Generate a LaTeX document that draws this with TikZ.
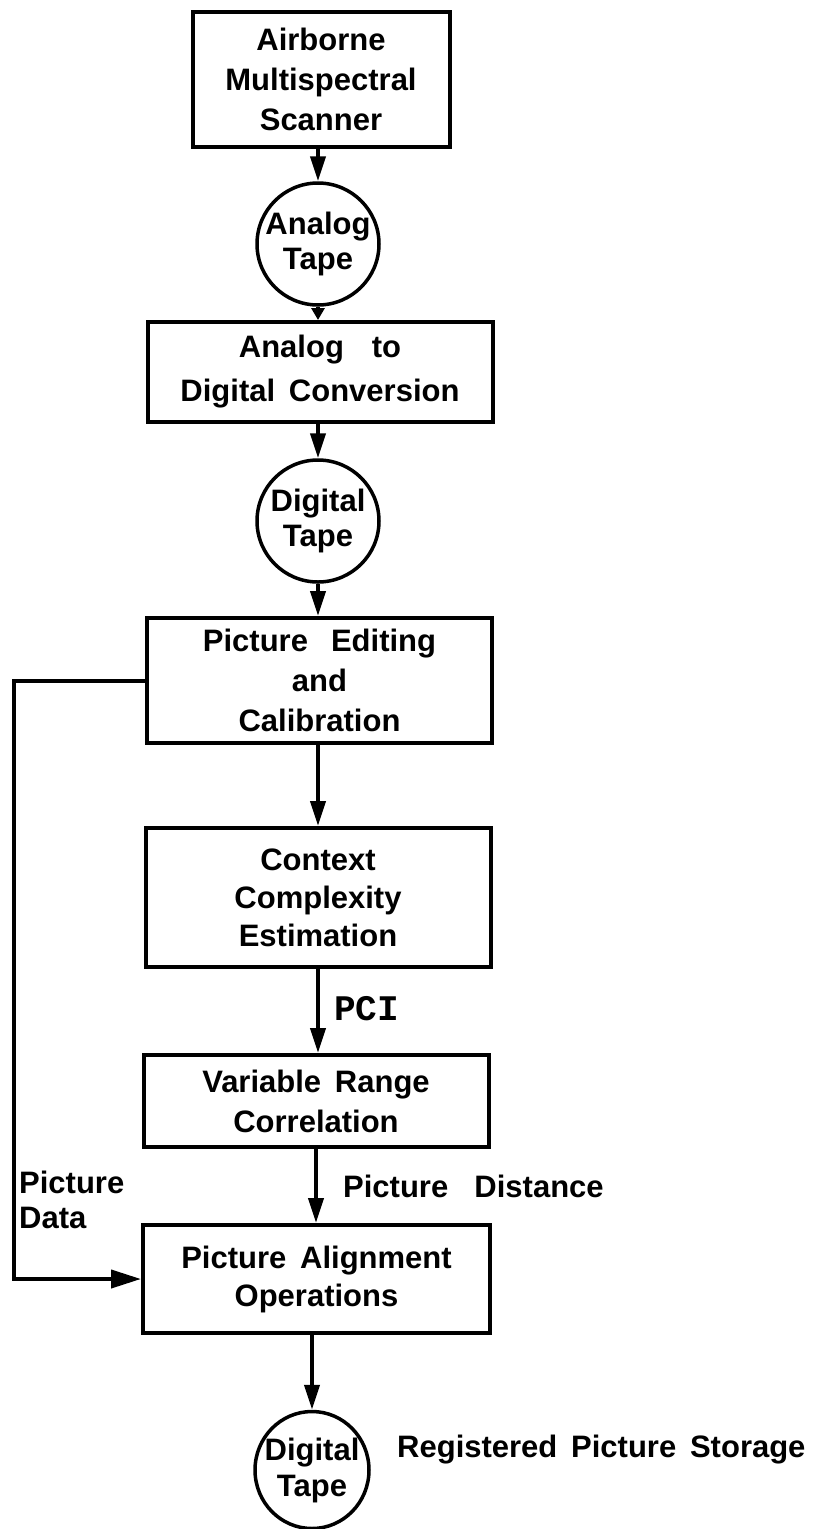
\documentclass[tikz,border=0pt]{standalone}
\usepackage{fontspec}
\setmainfont{Liberation Sans}[WordSpace=1.6]
\newfontfamily\pcifont{Liberation Mono}
\usetikzlibrary{arrows.meta,shapes.geometric}
\begin{document}
\begin{tikzpicture}[x=1pt,y=-1pt,
  box/.style={draw,line width=4pt,rectangle,inner sep=0pt,align=center},
  tape/.style={draw,line width=3.5pt,ellipse,inner sep=0pt},
  txt/.style={align=center,inner sep=0pt,font=\bfseries\fontsize{31}{#1}\selectfont},
  txt/.default=40,
  arr/.style={line width=4pt,-{Triangle[length=25pt,width=15pt]}},
  shortarr/.style={line width=4pt,-{Triangle[length=12pt,width=13pt]}},
  sidearr/.style={line width=4pt,-{Triangle[length=30pt,width=18pt]}}]
\useasboundingbox (0,0) rectangle (839,1529);

% boxes and tapes
\node[box,minimum width=257pt,minimum height=135pt] (b1) at (321,79.5) {};
\node[txt=40] (b1txt) at (b1) {Airborne\\Multispectral\\Scanner};

\node[tape,minimum width=122pt,minimum height=122pt] (t1) at (318,244) {};
\node[txt=35] (t1txt) at (t1) {Analog\\Tape};

\node[box,minimum width=345pt,minimum height=100pt] (b2) at (320,372) {};
\node[txt=44] (b2txt) at (b2) {Analog\hspace{0.9em}to\\Digital Conversion};

\node[tape,minimum width=122pt,minimum height=122pt] (t2) at (318,521) {};
\node[txt=35] (t2txt) at (t2) {Digital\\Tape};

\node[box,minimum width=345pt,minimum height=125pt] (b3) at (319.5,680.5) {};
\node[txt=40] (b3txt) at (b3) {Picture\hspace{0.3em} Editing\\and\\Calibration};

\node[box,minimum width=345pt,minimum height=139pt] (b4) at (318,897.5) {};
\node[txt=38] (b4txt) at (b4) {Context\\Complexity\\Estimation};

\node[box,minimum width=345pt,minimum height=92pt] (b5) at (316,1101) {};
\node[txt=40] (b5txt) at (b5) {Variable Range\\Correlation};

\node[box,minimum width=347pt,minimum height=108pt] (b6) at (316.5,1279) {};
\node[txt=38] (b6txt) at (b6) {Picture Alignment\\Operations};

\node[tape,minimum width=114pt,minimum height=117pt] (t3) at (312,1470) {};
\node[txt=36] (t3txt) at (t3) {Digital\\Tape};

% labels
\node[anchor=west,inner sep=0pt,font=\pcifont\bfseries\fontsize{36}{36}\selectfont] (pci) at (334,1009) {PCI};
\node[txt,anchor=west] (pdist) at (343,1186) {Picture\hspace{0.4em} Distance};
\node[txt=35,anchor=north west,align=left] (pdata) at (19,1171) {Picture\\Data};
\node[txt,anchor=west] (reg) at (397,1450) {Registered Picture Storage};

% connectors
\draw[arr] (b1.south -| t1.north) -- (t1.north);
\draw[shortarr] (t1.south) -- (t1.south |- b2.north);
\draw[arr] (t2.north |- b2.south) -- (t2.north);
\draw[arr] (t2.south) -- (t2.south |- b3.north);
\draw[arr] (b3.south -| b4.north) -- (b4.north);
\draw[arr] (b4.south) -- (b4.south |- b5.north);
\draw[arr] (b5.south) -- (b5.south |- b6.north);
\draw[arr] (t3.north |- b6.south) -- (t3.north);
\coordinate (L) at (14,1000);
\draw[sidearr] (b3.west) -| (L) |- (b6.west);
\end{tikzpicture}
\end{document}
